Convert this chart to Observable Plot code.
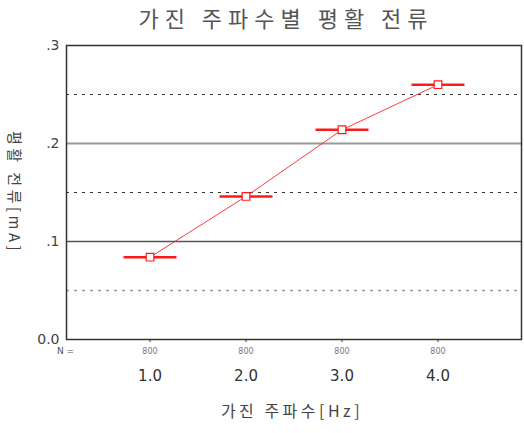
<!DOCTYPE html>
<html><head><meta charset="utf-8">
<script src="https://cdn.jsdelivr.net/npm/d3@7"></script>
<script src="https://cdn.jsdelivr.net/npm/@observablehq/plot@0.6"></script>
<style>
body{margin:0;background:#fff;}
#title{height:36px;line-height:34px;padding-left:48px;text-align:center;font-family:"Noto Sans CJK KR",sans-serif;font-size:22px;letter-spacing:6px;color:#555;width:476px;white-space:nowrap;}
</style>
</head><body>
<div id="title">가진 주파수별 평활 전류</div>
<div id="chart"></div>
<script>
const frequencies = [1.0, 2.0, 3.0, 4.0];
const meanCurrent = [0.084, 0.146, 0.214, 0.260];
const nCounts = [800, 800, 800, 800];
const yTicks = [0, 0.1, 0.2, 0.3];
const solidGrid = [0.1];
const lightSolidGrid = [0.2];
const darkDashGrid = [0.15, 0.25];
const lightDashGrid = [0.05];

const data = frequencies.map((f, i) => ({f, v: meanCurrent[i], n: nCounts[i]}));
const halfW = 0.276;
const red = "#ff1a1a";
const kr = "'Noto Sans CJK KR', sans-serif";
const num = "'DejaVu Sans', sans-serif";

const chart = Plot.plot({
  width: 524, height: 397,
  marginTop: 9, marginBottom: 94, marginLeft: 66, marginRight: 3,
  x: {type: "linear", domain: [0.13, 4.87]},
  y: {domain: [0, 0.3]},
  style: {fontFamily: num, background: "#fff"},
  marks: [
    Plot.ruleY(lightDashGrid, {stroke: "#999", strokeWidth: 1.5, strokeDasharray: "3,5"}),
    Plot.ruleY(darkDashGrid, {stroke: "#333", strokeWidth: 1.2, strokeDasharray: "3,5"}),
    Plot.ruleY(solidGrid, {stroke: "#555", strokeWidth: 1.5}),
    Plot.ruleY(lightSolidGrid, {stroke: "#999", strokeWidth: 2}),
    Plot.frame({stroke: "#333", strokeWidth: 1.5}),
    Plot.line(data, {x: "f", y: "v", stroke: red, strokeWidth: 1, strokeOpacity: 0.85}),
    Plot.link(data, {x1: d => d.f - halfW, x2: d => d.f + halfW, y1: "v", y2: "v", stroke: red, strokeWidth: 2.5}),
    Plot.dot(data, {x: "f", y: "v", symbol: "square", r: 4.3, stroke: red, fill: "#fff", strokeWidth: 1.2}),
    Plot.axisY({ticks: yTicks, tickSize: 0, tickPadding: 7, fontSize: 14, color: "#444",
      tickFormat: d => d === 0 ? "0.0" : d3.format(".1f")(d).replace(/^0/, ""), label: null}),
    Plot.axisX({ticks: frequencies, tickSize: 3, tickPadding: 28, fontSize: 15, color: "#333",
      tickFormat: d3.format(".1f"), label: null}),
    Plot.text(data, {x: "f", text: d => String(d.n), frameAnchor: "bottom", dy: 14, fontSize: 8, fill: "#777"}),
    Plot.text(["N ="], {frameAnchor: "bottom-left", textAnchor: "middle", dx: -1, dy: 14, fontSize: 9, fill: "#555"}),
    Plot.text(["가진 주파수[Hz]"], {frameAnchor: "bottom", dx: -2, dy: 77, fontSize: 16, fill: "#444", fontFamily: kr}),
    Plot.text(["평활 전류[mA]"], {frameAnchor: "left", textAnchor: "middle", dx: -53, rotate: 90, fontSize: 15, fill: "#444", fontFamily: kr})
  ]
});
d3.select(chart).selectAll("text").filter(function() {
  const t = this.textContent;
  return t === "가진 주파수[Hz]" || t === "평활 전류[mA]";
}).attr("letter-spacing", "3.5px");
document.getElementById("chart").appendChild(chart);
</script>
</body></html>
